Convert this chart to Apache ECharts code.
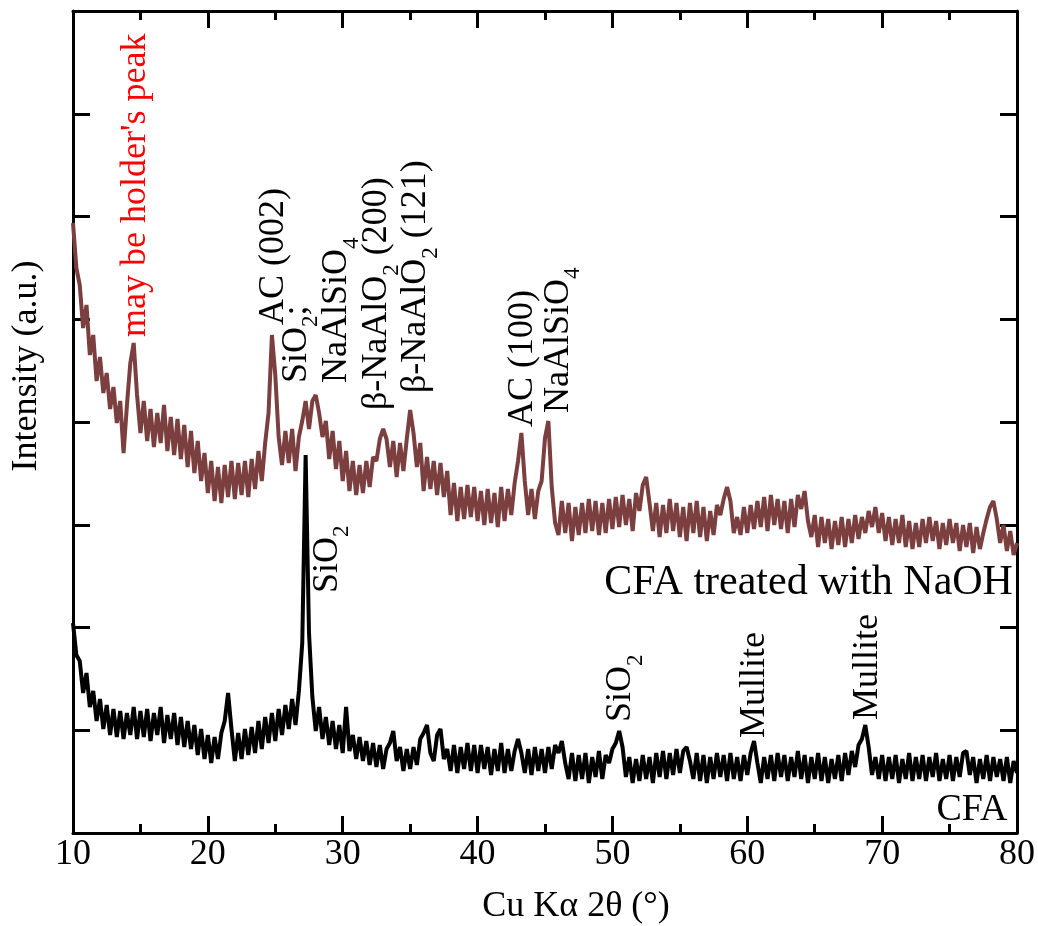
<!DOCTYPE html>
<html>
<head>
<meta charset="utf-8">
<title>XRD - CFA</title>
<script src="https://cdn.jsdelivr.net/npm/echarts@6/dist/echarts.min.js"></script>
<style>
  html, body { margin: 0; padding: 0; background: #fff; }
  #chart { width: 1038px; height: 926px; }
</style>
</head>
<body>
<div id="chart"></div>
<script>
// scan grid (2theta, degrees)
const scanStart = 10;
const scanStep = 0.25;

// intensity (a.u., stacked offsets as in the figure), one value per scan step
const treatedCounts = [
  610, 565, 548, 505, 528, 478, 498, 452, 476, 440,
  460, 424, 446, 410, 432, 380, 428, 470, 490, 438,
  400, 432, 392, 424, 386, 420, 390, 428, 382, 416,
  378, 414, 374, 408, 366, 402, 360, 392, 352, 380,
  340, 372, 332, 366, 330, 368, 336, 372, 334, 370,
  338, 372, 336, 374, 344, 382, 352, 390, 420, 498,
  458, 396, 368, 402, 370, 404, 362, 396, 412, 432,
  404, 432, 438, 420, 396, 412, 374, 402, 364, 392,
  352, 382, 342, 372, 338, 368, 340, 372, 346, 376,
  372, 394, 404, 394, 366, 392, 356, 390, 362, 394,
  423, 400, 366, 390, 342, 376, 344, 372, 338, 370,
  336, 362, 318, 350, 312, 346, 314, 348, 316, 346,
  312, 342, 308, 344, 310, 340, 306, 346, 312, 344,
  318, 350, 372, 400, 352, 318, 344, 314, 342, 352,
  395, 412, 346, 310, 298, 332, 300, 330, 292, 326,
  298, 330, 300, 334, 302, 332, 298, 330, 300, 334,
  304, 336, 306, 338, 308, 334, 302, 340, 322, 348,
  356, 330, 302, 330, 296, 328, 300, 334, 302, 330,
  296, 326, 292, 330, 300, 332, 296, 326, 292, 322,
  298, 328, 318, 334, 346, 332, 300, 316, 298, 326,
  300, 328, 304, 332, 306, 336, 302, 338, 308, 334,
  304, 332, 300, 334, 306, 338, 324, 342, 312, 296,
  318, 286, 316, 290, 314, 284, 312, 288, 316, 286,
  314, 290, 318, 294, 316, 300, 322, 306, 326, 300,
  320, 292, 316, 288, 314, 290, 318, 286, 312, 284,
  310, 286, 314, 290, 316, 292, 312, 284, 310, 288,
  314, 290, 310, 282, 308, 286, 310, 280, 306, 284,
  300, 314, 326, 332, 314, 290, 308, 282, 302, 278,
  290
];

const cfaCounts = [
  210, 178, 172, 140, 160, 126, 142, 112, 134, 104,
  128, 98, 124, 96, 122, 94, 120, 98, 126, 94,
  122, 96, 124, 92, 120, 98, 126, 90, 118, 94,
  120, 88, 116, 86, 112, 84, 108, 78, 104, 74,
  98, 70, 96, 74, 100, 112, 140, 104, 72, 100,
  74, 104, 78, 106, 80, 112, 84, 116, 90, 120,
  92, 124, 98, 128, 104, 134, 108, 142, 190, 378,
  200, 136, 102, 126, 94, 116, 88, 112, 84, 108,
  80, 126, 82, 98, 74, 96, 72, 92, 68, 90,
  66, 88, 64, 84, 90, 102, 72, 86, 62, 84,
  64, 86, 68, 94, 100, 108, 80, 72, 98, 104,
  74, 84, 62, 88, 60, 86, 64, 90, 62, 88,
  60, 88, 64, 86, 58, 84, 62, 90, 60, 84,
  62, 82, 94, 80, 60, 84, 58, 86, 62, 84,
  60, 86, 64, 88, 80, 92, 70, 54, 80, 52,
  78, 54, 80, 50, 76, 56, 82, 54, 78, 70,
  84, 90, 102, 86, 56, 76, 50, 74, 52, 78,
  54, 76, 50, 80, 56, 82, 54, 80, 58, 84,
  60, 82, 86, 72, 54, 80, 52, 78, 50, 76,
  54, 80, 56, 78, 52, 80, 54, 76, 52, 78,
  58, 80, 92, 70, 50, 76, 54, 78, 52, 80,
  56, 78, 52, 76, 56, 82, 54, 78, 50, 76,
  54, 80, 52, 76, 50, 74, 54, 78, 52, 80,
  58, 82, 66, 88, 94, 108, 86, 58, 76, 54,
  78, 52, 76, 54, 78, 50, 74, 54, 80, 52,
  76, 54, 78, 52, 76, 56, 80, 52, 74, 54,
  78, 52, 76, 56, 80, 82, 58, 76, 50, 74,
  54, 78, 52, 76, 56, 74, 52, 76, 50, 72,
  60
];

// x-axis tick labels
const angleTicks = [10, 20, 30, 40, 50, 60, 70, 80];

// peak annotations (text starts at the given point and runs upward)
const peakTexts = [
  "may be holder's peak",
  'AC (002)',
  '{n|SiO}{s|2}{n|;}',
  '{n|NaAlSiO}{s|4}',
  '{n|β-NaAlO}{s|2}{n| (200)}',
  '{n|β-NaAlO}{s|2}{n| (121)}',
  'AC (100)',
  '{n|NaAlSiO}{s|4}',
  '{n|SiO}{s|2}',
  '{n|SiO}{s|2}',
  'Mullite',
  'Mullite'
];
const peakAngles = [14.65, 24.9, 26.9, 29.87, 32.84, 35.73, 43.3, 46.33, 29.2, 50.93, 60.57, 68.95];
const peakHeights = [496, 508, 450, 450, 423, 440, 406, 420, 240, 111, 95, 113];
const peakColors = ['#ff0000', '#000', '#000', '#000', '#000', '#000', '#000', '#000', '#000', '#000', '#000', '#000'];

// sample names (right-aligned, text bottom at the given point)
const sampleNames = ['CFA treated with NaOH', 'CFA'];
const sampleAngles = [79.7, 79.3];
const sampleHeights = [229, 4];
const sampleFontSizes = [42, 38];

const FONT = 'Liberation Serif';
const BROWN = '#7b3f3f';

const toPairs = (values) => values.map((v, i) => [scanStart + i * scanStep, v]);

const frameAxis = (position, showLabel) => ({
  type: 'value',
  position,
  axisLine: { show: true, onZero: false, lineStyle: { color: '#000', width: 3 } },
  axisTick: { show: true, inside: true, length: 17, lineStyle: { color: '#000', width: 3 } },
  splitLine: { show: false },
  axisLabel: { show: showLabel }
});

const chart = echarts.init(document.getElementById('chart'));

const option = {
  animation: false,
  backgroundColor: '#fff',
  grid: { left: 73, right: 21, top: 11, bottom: 93, containLabel: false },
  xAxis: [
    Object.assign(frameAxis('bottom', true), {
      min: 10, max: 80, interval: 10,
      minorTick: { show: true, splitNumber: 2, length: 9, lineStyle: { color: '#000', width: 3 } },
      axisLabel: {
        show: true, color: '#000', fontFamily: FONT, fontSize: 36, margin: 4,
        formatter: (v) => (angleTicks.indexOf(v) >= 0 ? String(v) : '')
      }
    }),
    Object.assign(frameAxis('top', false), {
      min: 10, max: 80, interval: 10,
      minorTick: { show: true, splitNumber: 2, length: 9, lineStyle: { color: '#000', width: 3 } }
    })
  ],
  yAxis: [
    Object.assign(frameAxis('left', false), { min: 0, max: 822, interval: 102.75 }),
    Object.assign(frameAxis('right', false), { min: 0, max: 822, interval: 102.75 })
  ],
  series: [
    {
      name: 'CFA treated with NaOH',
      type: 'line',
      data: toPairs(treatedCounts),
      showSymbol: false,
      lineStyle: { color: BROWN, width: 4 },
      z: 3
    },
    {
      name: 'CFA',
      type: 'line',
      data: toPairs(cfaCounts),
      showSymbol: false,
      lineStyle: { color: '#000', width: 4 },
      z: 2
    }
  ]
};

chart.setOption(option);

const rich = (color) => ({
  n: { fill: color, fontFamily: FONT, fontSize: 36, lineHeight: 44, verticalAlign: 'top' },
  s: { fill: color, fontFamily: FONT, fontSize: 23, lineHeight: 24, verticalAlign: 'bottom' }
});

const graphics = [];
peakTexts.forEach((txt, i) => {
  const p = chart.convertToPixel({ xAxisIndex: 0, yAxisIndex: 0 }, [peakAngles[i], peakHeights[i]]);
  graphics.push({
    type: 'text',
    x: p[0], y: p[1],
    rotation: Math.PI / 2,
    style: {
      text: txt,
      fill: peakColors[i],
      fontFamily: FONT,
      fontSize: 36,
      align: 'left',
      verticalAlign: 'middle',
      rich: rich(peakColors[i])
    },
    z: 10
  });
});
sampleNames.forEach((name, i) => {
  const p = chart.convertToPixel({ xAxisIndex: 0, yAxisIndex: 0 }, [sampleAngles[i], sampleHeights[i]]);
  graphics.push({
    type: 'text',
    x: p[0], y: p[1],
    style: { text: name, fill: '#000', fontFamily: FONT, fontSize: sampleFontSizes[i], align: 'right', verticalAlign: 'bottom' },
    z: 10
  });
});
// axis titles
graphics.push({
  type: 'text', x: 27, y: 366, rotation: Math.PI / 2,
  style: { text: 'Intensity (a.u.)', fill: '#000', fontFamily: FONT, fontSize: 36, align: 'center', verticalAlign: 'middle' }
});
graphics.push({
  type: 'text', x: 576, y: 907,
  style: { text: 'Cu Kα 2θ (°)', fill: '#000', fontFamily: FONT, fontSize: 36, align: 'center', verticalAlign: 'middle' }
});

chart.setOption({ graphic: graphics });
</script>
</body>
</html>
